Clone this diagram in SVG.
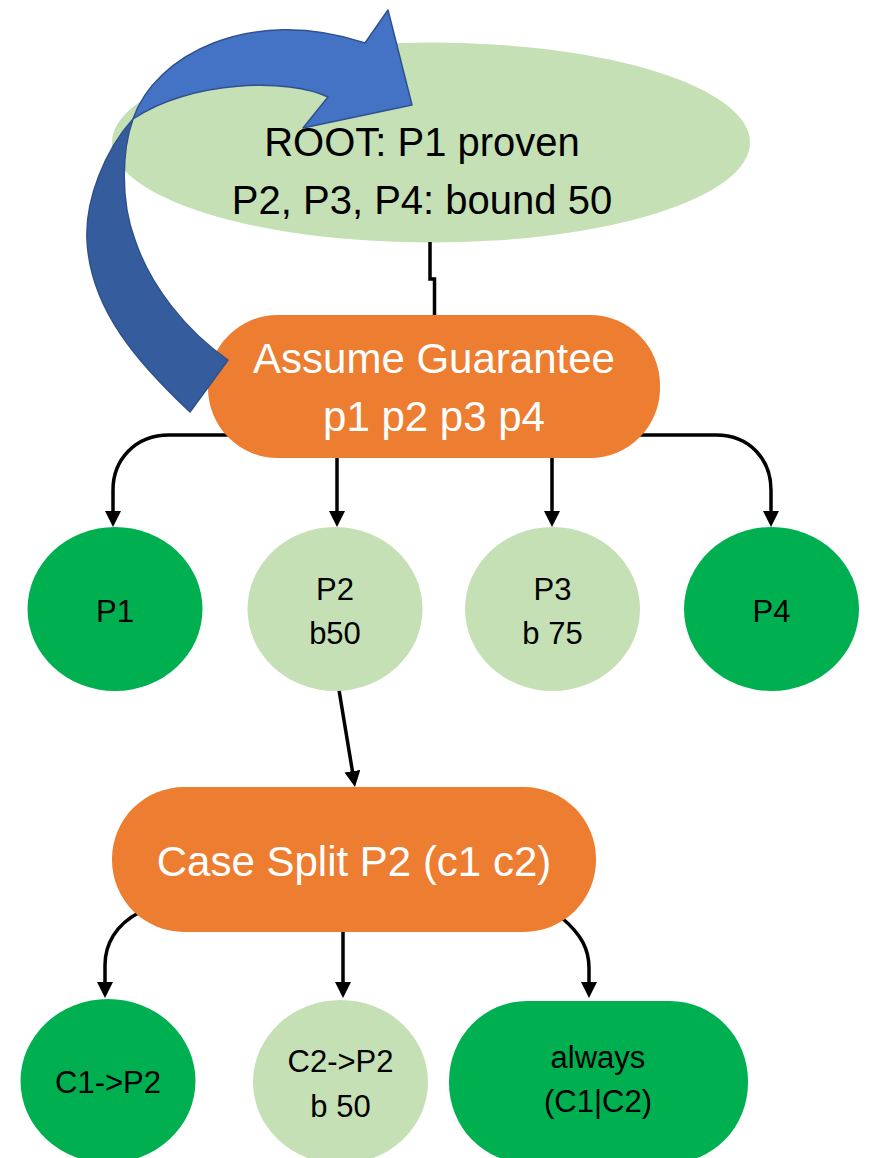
<svg xmlns="http://www.w3.org/2000/svg" width="869" height="1158" viewBox="0 0 869 1158">
<style>
text{font-family:"Liberation Sans",Arial,sans-serif;text-anchor:middle;fill:#000}
.w{fill:#fff}
.big{font-size:40px}
.mid{font-size:42px}
.sm{font-size:31px}
.conn{fill:none;stroke:#000;stroke-width:3.5}
.arr{marker-end:url(#ah)}
.lg{fill:#C5E0B4}
.dg{fill:#00B050}
.or{fill:#ED7D31}
</style>
<defs>
<marker id="ah" markerUnits="userSpaceOnUse" markerWidth="17" markerHeight="17" refX="6" refY="8" orient="auto">
<path d="M0,0 L16,8 L0,16 Z" fill="#000"/>
</marker>
</defs>
<rect width="869" height="1158" fill="#fff"/>
<g id="root">
<ellipse class="lg" cx="431" cy="142.5" rx="319" ry="100"/>
<text class="big" x="422" y="156">ROOT: P1 proven</text>
<text class="big" x="422" y="214">P2, P3, P4: bound 50</text>
</g>
<g id="connectors">
<path class="conn" d="M430,242 V279 H434.5 V316"/>
<path class="conn arr" d="M240,435 H169 C135,435 113,460 113,490 V517"/>
<path class="conn arr" d="M337,455 V517"/>
<path class="conn arr" d="M552,455 V517"/>
<path class="conn arr" d="M630,435 H716 C750,435 771,460 771,490 V517"/>
<path class="conn arr" d="M339,690 L353.4,777.1"/>
<path class="conn arr" d="M140,912 C115,925 105,945 105,965 V988"/>
<path class="conn arr" d="M343,930 V988"/>
<path class="conn arr" d="M562,918 C582,935 589,950 589,968 V988"/>
</g>
<g id="assume-guarantee">
<rect class="or" x="208" y="315" width="452" height="143" rx="70" ry="70"/>
<text class="w mid" x="434" y="373">Assume Guarantee</text>
<text class="w mid" x="434" y="431">p1 p2 p3 p4</text>
</g>
<g id="p1">
<ellipse class="dg" cx="115" cy="609" rx="87.5" ry="82"/>
<text class="sm" x="115" y="622">P1</text>
</g>
<g id="p2">
<ellipse class="lg" cx="335" cy="609" rx="87.5" ry="82"/>
<text class="sm" x="335" y="600">P2</text>
<text class="sm" x="335" y="644">b50</text>
</g>
<g id="p3">
<ellipse class="lg" cx="552.5" cy="609" rx="87.5" ry="82"/>
<text class="sm" x="552.5" y="600">P3</text>
<text class="sm" x="552.5" y="644">b 75</text>
</g>
<g id="p4">
<ellipse class="dg" cx="771.5" cy="609" rx="87.5" ry="82"/>
<text class="sm" x="771.5" y="622">P4</text>
</g>
<g id="case-split">
<rect class="or" x="112" y="787" width="484" height="145" rx="72" ry="72"/>
<text class="w mid" x="354" y="876">Case Split P2 (c1 c2)</text>
</g>
<g id="c1p2">
<ellipse class="dg" cx="108" cy="1081" rx="87.5" ry="82"/>
<text class="sm" x="108" y="1093">C1-&gt;P2</text>
</g>
<g id="c2p2">
<ellipse class="lg" cx="340.5" cy="1082" rx="87.5" ry="82"/>
<text class="sm" x="340.5" y="1072">C2-&gt;P2</text>
<text class="sm" x="340.5" y="1117">b 50</text>
</g>
<g id="always">
<rect class="dg" x="449" y="1001" width="299" height="162" rx="78" ry="80"/>
<text class="sm" x="598" y="1068">always</text>
<text class="sm" x="598" y="1112">(C1|C2)</text>
</g>
<g id="loop-arrow" stroke="#2F528F" stroke-width="1.5" stroke-linejoin="round">
<path fill="#355C9D" d="M190,412 C140,365 90,310 87,240 C85,200 105,150 133,119 C122,150 120,200 135,240 C150,285 185,330 228,360 Z"/>
<path fill="#4472C4" d="M133,119 C155,55 250,5 365,43 L388,10 L412,105 L303,128 L328,97 C290,78 190,80 133,119 Z"/>
</g>
</svg>
